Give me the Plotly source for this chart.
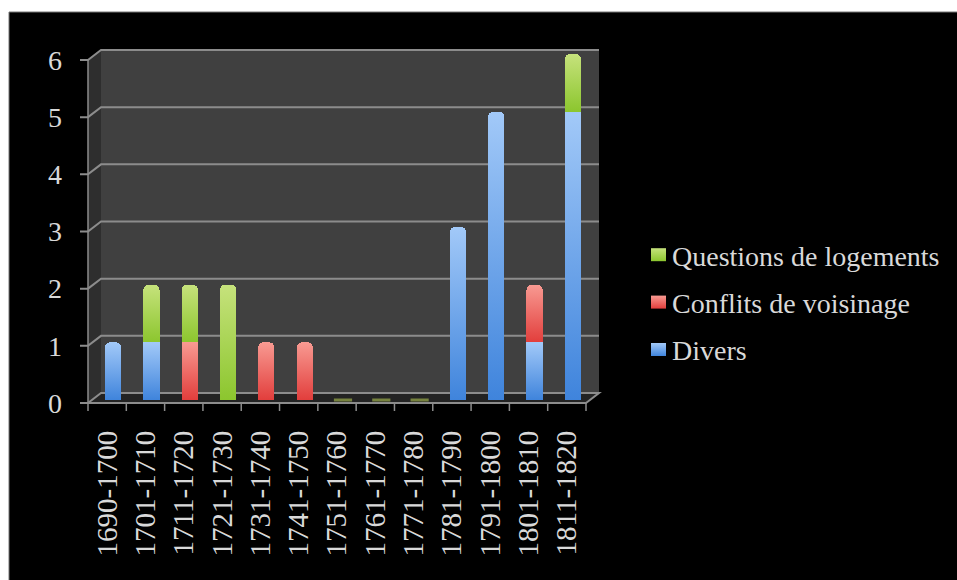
import plotly.graph_objects as go

W, H = 957, 580
categories = ["1690-1700","1701-1710","1711-1720","1721-1730","1731-1740","1741-1750","1751-1760",
              "1761-1770","1771-1780","1781-1790","1791-1800","1801-1810","1811-1820"]
divers = [1,1,0,0,0,0,0,0,0,3,5,1,5]
conflits = [0,0,1,0,1,1,0,0,0,0,0,1,0]
logements = [0,1,1,2,0,0,0,0,0,0,0,0,1]
y_ticks = [0,1,2,3,4,5,6]
FONT = "Liberation Serif"
TXT = "#d9d9d9"
GRID = "#8c8c8c"

def px(x): return x / W
def py(y): return 1 - y / H

# pixel geometry of the pseudo-3D box
FL, FR, FB, FT = 88, 586, 403, 60
BL, BR, BB, BT = 101, 599, 393, 50

def front_y(v): return FB + (FT - FB) * v / 6
def back_y(v): return BB + (BT - BB) * v / 6

fig = go.Figure()
blue, red, green = "#5b9be8", "#ec6a66", "#9ed04c"
for rank, name, vals, col in [(3, "Divers", divers, blue), (2, "Conflits de voisinage", conflits, red),
                              (1, "Questions de logements", logements, green)]:
    fig.add_trace(go.Bar(x=categories, y=vals, name=name, marker=dict(color=col, line_width=0, cornerradius=5),
                         width=0.42, xaxis="x2", yaxis="y2", legendgroup=name, legendrank=rank))

totals = [a + b + c for a, b, c in zip(divers, conflits, logements)]
zero_cats = [c for c, t in zip(categories, totals) if t == 0]
fig.add_trace(go.Scatter(x=zero_cats, y=[0] * len(zero_cats), mode="markers", xaxis="x2", yaxis="y2",
                         marker=dict(symbol="line-ew", size=13, line=dict(color="#77833f", width=3)),
                         showlegend=False, hoverinfo="skip", cliponaxis=False))

shapes = [
    dict(type="rect", xref="paper", yref="paper", x0=0, x1=1, y0=0, y1=1, fillcolor="#ffffff", line_width=0, layer="below"),
    dict(type="rect", xref="paper", yref="paper", x0=px(9), x1=1.01, y0=-0.01, y1=py(12), fillcolor="#000000",
         line=dict(color="#777777", width=1), layer="below"),
    # back wall
    dict(type="rect", xref="paper", yref="paper", x0=px(BL), x1=px(BR), y0=py(BB), y1=py(BT), fillcolor="#404040", line_width=0, layer="below"),
    # side wall
    dict(type="path", xref="paper", yref="paper",
         path=f"M {px(FL)} {py(FT)} L {px(BL)} {py(BT)} L {px(BL)} {py(BB)} L {px(FL)} {py(FB)} Z",
         fillcolor="#2e2e2e", line_width=0, layer="below"),
    # floor
    dict(type="path", xref="paper", yref="paper",
         path=f"M {px(FL)} {py(FB)} L {px(BL)} {py(BB)} L {px(BR)} {py(BB)} L {px(FR)} {py(FB)} Z",
         fillcolor="#232323", line_width=0, layer="below"),
]
for v in y_ticks:
    fy, by = front_y(v), back_y(v)
    path = f"M {px(FL - 8)} {py(fy)} L {px(FL)} {py(fy)} L {px(BL)} {py(by)} L {px(BR)} {py(by)}"
    if v == 0:
        path = f"M {px(FL - 8)} {py(fy)} L {px(FR)} {py(fy)} L {px(BR)} {py(by)} L {px(BL)} {py(by)} L {px(FL)} {py(fy)}"
    shapes.append(dict(type="path", xref="paper", yref="paper", path=path, line=dict(color=GRID, width=2), layer="below"))
shapes.append(dict(type="line", xref="paper", yref="paper", x0=px(FL), x1=px(FL), y0=py(FB), y1=py(FT),
                   line=dict(color=GRID, width=1.5), layer="below"))
for i in range(14):
    x = FL + (FR - FL) * i / 13
    shapes.append(dict(type="line", xref="paper", yref="paper", x0=px(x), x1=px(x), y0=py(FB), y1=py(FB + 8),
                       line=dict(color=GRID, width=1.5), layer="below"))

fig.update_layout(
    width=W, height=H, margin=dict(l=0, r=0, t=0, b=0, autoexpand=False),
    paper_bgcolor="#000000", plot_bgcolor="rgba(0,0,0,0)", barmode="stack", shapes=shapes,
    font=dict(family=FONT, color=TXT),
    xaxis=dict(domain=[px(FL), px(FR)], type="category", categoryorder="array", categoryarray=categories,
               range=[-0.5, 12.5], tickangle=-90, showgrid=False, zeroline=False, showline=False, ticks="",
               ticklabelstandoff=21, tickfont=dict(size=29, color=TXT, family=FONT), anchor="y"),
    yaxis=dict(domain=[py(FB), py(FT)], range=[0, 6], tickvals=y_ticks, showgrid=False, zeroline=False, ticks="",
               showline=False, ticklabelstandoff=25, tickfont=dict(size=28, color=TXT, family=FONT), anchor="x"),
    xaxis2=dict(domain=[px(FL + 6), px(FR + 6)], type="category", categoryorder="array", categoryarray=categories,
                range=[-0.5, 12.5], visible=False, anchor="y2"),
    yaxis2=dict(domain=[py(400), py(54)], range=[0, 6], visible=False, anchor="x2"),
    legend=dict(x=px(632), y=py(230), xanchor="left", yanchor="top", traceorder="grouped", tracegroupgap=8,
                bgcolor="rgba(0,0,0,0)", font=dict(size=28, color=TXT, family=FONT), itemwidth=30),
    showlegend=True,
)
# a dummy trace keeps the front axis (with its tick labels) alive
fig.add_trace(go.Scatter(x=categories, y=[None] * len(categories), xaxis="x", yaxis="y", showlegend=False, hoverinfo="skip"))

# page margin off; vertical gradients on the bars Plotly drew
post = """
document.documentElement.style.margin='0';
document.body.style.margin='0';
(function(){
 var gd=document.querySelector('.plotly-graph-div');
 function paint(){
  var svg=gd.querySelector('svg.main-svg');
  var ns='http://www.w3.org/2000/svg';
  var defs=svg.querySelector('defs');
  var stops={g0:['#a2c9f8','#3f84dc'],g1:['#f89a92','#e23e3c'],g2:['#c6e27c','#8cc62e']};
  Object.keys(stops).forEach(function(k){
   if(document.getElementById(k))return;
   var g=document.createElementNS(ns,'linearGradient');
   g.setAttribute('id',k);g.setAttribute('x1','0');g.setAttribute('y1','0');g.setAttribute('x2','0');g.setAttribute('y2','1');
   stops[k].forEach(function(c,i){var s=document.createElementNS(ns,'stop');s.setAttribute('offset',i);s.setAttribute('stop-color',c);g.appendChild(s);});
   defs.appendChild(g);
  });
  gd.querySelectorAll('.barlayer .trace').forEach(function(t,i){
   t.querySelectorAll('path').forEach(function(p){p.style.fill='url(#g'+i+')';});
  });
  var names={'Divers':'g0','Conflits de voisinage':'g1','Questions de logements':'g2'};
  gd.querySelectorAll('.legend .traces').forEach(function(t){
   var k=names[t.querySelector('.legendtext').textContent];
   t.querySelectorAll('.legendbar path, .legendpoints path').forEach(function(p){
     if(k){p.style.fill='url(#'+k+')';p.setAttribute('d','M14,6.5H-1V-6.5H14Z');}
   });
  });
 }
 paint();
 gd.on&&gd.on('plotly_afterplot',paint);
})();
"""
fig.write_html("out.html", post_script=post, config=dict(displayModeBar=False))
